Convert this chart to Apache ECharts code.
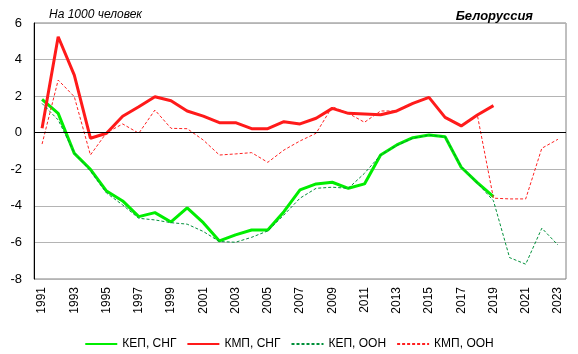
<!DOCTYPE html>
<html>
<head>
<meta charset="utf-8">
<script src="https://cdn.jsdelivr.net/npm/echarts@6/dist/echarts.min.js"></script>
<style>
  html, body { margin: 0; padding: 0; background: #fff; }
  #chart { width: 578px; height: 354px; }
</style>
</head>
<body>
<div id="chart"></div>
<script>
var years = [];
for (var y = 1991; y <= 2023; y++) { years.push(String(y)); }

// КЕП, СНГ (1991-2019)
var kepCis = [1.82, 1.06, -1.13, -2.0, -3.19, -3.73, -4.59, -4.37, -4.88, -4.11,
  -4.92, -5.92, -5.59, -5.32, -5.32, -4.32, -3.13, -2.8, -2.71, -3.04,
  -2.8, -1.22, -0.67, -0.27, -0.13, -0.22, -1.89, -2.73, -3.5];
// КМП, СНГ (1991-2019)
var kmpCis = [0.24, 5.25, 3.15, -0.3, -0.03, 0.9, 1.42, 1.97, 1.75, 1.19,
  0.91, 0.55, 0.55, 0.22, 0.22, 0.6, 0.48, 0.79, 1.33, 1.06,
  1.02, 0.98, 1.19, 1.6, 1.93, 0.84, 0.37, 0.97, 1.48];
// КЕП, ООН (1991-2023)
var kepUn = [1.6, 0.7, -1.1, -2.1, -3.3, -3.95, -4.68, -4.77, -4.92, -5.0,
  -5.4, -5.95, -5.99, -5.72, -5.37, -4.5, -3.58, -3.04, -2.98, -3.04,
  -2.22, -1.22, -0.7, -0.3, -0.13, -0.22, -1.85, -2.75, -3.72, -6.83,
  -7.19, -5.22, -6.14];
// КМП, ООН (1991-2023)
var kmpUn = [-0.62, 2.88, 1.97, -1.22, 0.0, 0.48, -0.03, 1.24, 0.24, 0.22,
  -0.4, -1.22, -1.16, -1.09, -1.62, -0.95, -0.45, -0.03, 1.42, 1.06,
  0.57, 1.19, 1.19, 1.6, 1.93, 0.84, 0.37, 0.97, -3.58, -3.62,
  -3.62, -0.85, -0.36];

var font = 'Liberation Sans, Arial, sans-serif';
var chart = echarts.init(document.getElementById('chart'));

function solid(name, data, color) {
  return {
    name: name, type: 'line', data: data, symbol: 'none',
    lineStyle: { color: color, width: 3 }, itemStyle: { color: color },
    z: 3, animation: false
  };
}
function dashed(name, data, color) {
  return {
    name: name, type: 'line', data: data, symbol: 'none',
    lineStyle: { color: color, width: 1, type: [3, 2] }, itemStyle: { color: color },
    z: 4, animation: false
  };
}

var series = [
  solid('КЕП, СНГ', kepCis, '#00ee00'),
  solid('КМП, СНГ', kmpCis, '#ff1a1a'),
  dashed('КЕП, ООН', kepUn, '#00903a'),
  dashed('КМП, ООН', kmpUn, '#ff2020')
];
// нулевая линия
series[0].markLine = {
  silent: true, symbol: 'none', label: { show: false },
  lineStyle: { color: '#000', width: 1, type: 'solid' },
  data: [{ yAxis: 0 }]
};

chart.setOption({
  animation: false,
  textStyle: { fontFamily: font },
  title: [
    { text: 'На 1000 человек', left: 44, top: 4,
      textStyle: { fontSize: 12, fontStyle: 'italic', fontWeight: 'normal', color: '#000', fontFamily: font } },
    { text: 'Белоруссия', right: 40, top: 5,
      textStyle: { fontSize: 13, fontStyle: 'italic', fontWeight: 'bold', color: '#000', fontFamily: font } }
  ],
  grid: { left: 34, right: 12, top: 23, bottom: 75, show: true, borderColor: '#808080', borderWidth: 1 },
  legend: {
    top: 333, left: 'center', itemWidth: 32, itemHeight: 10, itemGap: 10,
    itemStyle: { opacity: 0 },
    textStyle: { fontSize: 12, color: '#000', fontFamily: font },
    data: ['КЕП, СНГ', 'КМП, СНГ', 'КЕП, ООН', 'КМП, ООН']
  },
  xAxis: {
    type: 'category', data: years, boundaryGap: true,
    axisLine: { show: false },
    axisTick: { show: false },
    axisLabel: { rotate: 90, interval: 1, fontSize: 12, color: '#000', margin: 8 },
    splitLine: { show: false }
  },
  yAxis: {
    type: 'value', min: -8, max: 6, interval: 2,
    axisLine: { show: true, lineStyle: { color: '#000', width: 1 } },
    axisTick: { show: false },
    axisLabel: { fontSize: 13, color: '#000', margin: 12 },
    splitLine: { show: true, lineStyle: { color: '#b4b4b4', width: 1 } }
  },
  series: series
});
</script>
</body>
</html>
